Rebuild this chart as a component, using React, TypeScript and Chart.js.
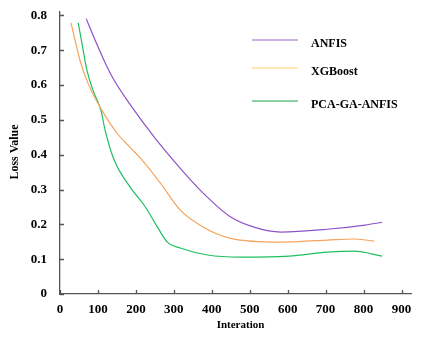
import React, { useEffect, useRef } from "react";
import { Chart, registerables } from "chart.js";

Chart.register(...registerables);

const seriesLabels = ["ANFIS", "XGBoost", "PCA-GA-ANFIS"];
const lineColors = ["#8e52c8", "#f7a35c", "#1fbf5f"];
const legendColors = ["#b899d8", "#ffd166", "#1aa34a"];
const xTitle = "Interation";
const yTitle = "Loss Value";

const anfisX = [69, 93, 114, 140, 185, 251, 317, 378, 450, 511, 582, 704, 804, 849];
const anfisY = [0.791, 0.728, 0.676, 0.619, 0.544, 0.447, 0.361, 0.289, 0.221, 0.192, 0.178, 0.186, 0.198, 0.206];

const xgbX = [29, 53, 74, 106, 151, 185, 217, 265, 317, 378, 450, 582, 704, 775, 828];
const xgbY = [0.779, 0.67, 0.605, 0.536, 0.461, 0.421, 0.384, 0.318, 0.241, 0.192, 0.16, 0.149, 0.155, 0.158, 0.152];

const pcaX = [48, 58, 71, 87, 108, 119, 143, 185, 225, 251, 283, 317, 389, 476, 603, 704, 775, 849];
const pcaY = [0.779, 0.719, 0.642, 0.585, 0.527, 0.47, 0.384, 0.307, 0.25, 0.203, 0.149, 0.132, 0.112, 0.106, 0.109, 0.12, 0.123, 0.109];

const xTicks = [0, 100, 200, 300, 400, 500, 600, 700, 800, 900];
const yTicks = [0, 0.1, 0.2, 0.3, 0.4, 0.5, 0.6, 0.7, 0.8];

const FONT = "'Liberation Serif', 'DejaVu Serif', serif";

function pts(xs: number[], ys: number[]) {
  return xs.map((x, i) => ({ x, y: ys[i] }));
}

const decorations = {
  id: "decorations",
  afterDraw(chart: any) {
    const ctx = chart.ctx;
    const xs = chart.scales.x;
    const ys = chart.scales.y;
    const a = chart.chartArea;
    ctx.save();
    ctx.strokeStyle = "#555";
    ctx.lineWidth = 1.3;
    ctx.beginPath();
    xs.ticks.forEach((t: any) => {
      const px = Math.round(xs.getPixelForValue(t.value)) + 0.5;
      ctx.moveTo(px, a.bottom);
      ctx.lineTo(px, a.bottom - 4);
    });
    ys.ticks.forEach((t: any) => {
      const py = Math.round(ys.getPixelForValue(t.value)) + 0.5;
      ctx.moveTo(a.left, py);
      ctx.lineTo(a.left + 4, py);
    });
    ctx.stroke();
    // axis titles
    ctx.fillStyle = "#000";
    ctx.font = "bold 11px " + FONT;
    ctx.textAlign = "center";
    ctx.textBaseline = "middle";
    ctx.fillText(xTitle, (a.left + a.right) / 2 + 5, 325);
    ctx.save();
    ctx.translate(15, 152);
    ctx.rotate(-Math.PI / 2);
    ctx.font = "bold 12px " + FONT;
    ctx.fillText(yTitle, 0, 0);
    ctx.restore();
    // legend
    const rows = [40, 68, 101];
    ctx.font = "bold 12px " + FONT;
    ctx.textAlign = "left";
    seriesLabels.forEach((lab, i) => {
      ctx.strokeStyle = legendColors[i];
      ctx.lineWidth = i === 0 ? 1.6 : 1.2;
      ctx.beginPath();
      ctx.moveTo(252, rows[i]);
      ctx.lineTo(298, rows[i]);
      ctx.stroke();
      ctx.fillText(lab, 311, rows[i] + 4);
    });
    ctx.restore();
  },
};

export default function App() {
  const ref = useRef<HTMLCanvasElement | null>(null);
  useEffect(() => {
    document.body.style.margin = "0";
    const c = ref.current;
    if (!c) return;
    const chart = new Chart(c, {
      type: "line",
      data: {
        datasets: [
          { label: seriesLabels[0], data: pts(anfisX, anfisY) },
          { label: seriesLabels[1], data: pts(xgbX, xgbY) },
          { label: seriesLabels[2], data: pts(pcaX, pcaY) },
        ].map((d, i) => ({
          ...d,
          borderColor: lineColors[i],
          backgroundColor: lineColors[i],
          borderWidth: 1.2,
          pointRadius: 0,
          fill: false,
          cubicInterpolationMode: "monotone" as const,
        })),
      },
      options: {
        animation: false,
        responsive: false,
        layout: { padding: { top: 12, right: 17, left: 0, bottom: 0 } },
        plugins: { legend: { display: false }, tooltip: { enabled: false } },
        scales: {
          x: {
            type: "linear",
            min: 0,
            max: 925,
            afterBuildTicks: (s: any) => {
              s.ticks = xTicks.map((v) => ({ value: v }));
            },
            afterFit: (s: any) => {
              s.height = 58;
              s.paddingLeft = 0;
              s.paddingRight = 0;
            },
            grid: { display: false, drawTicks: false },
            border: { display: true, color: "#555", width: 1.3 },
            ticks: {
              color: "#000",
              padding: 8,
              maxRotation: 0,
              font: { family: FONT, size: 13, weight: "bold" },
              callback: (v: any) => String(v),
            },
          },
          y: {
            type: "linear",
            min: 0,
            max: 0.81,
            afterBuildTicks: (s: any) => {
              s.ticks = yTicks.map((v) => ({ value: v }));
            },
            afterFit: (s: any) => {
              s.width = 60;
              s.paddingTop = 0;
              s.paddingBottom = 0;
            },
            grid: { display: false, drawTicks: false },
            border: { display: true, color: "#555", width: 1.3 },
            ticks: {
              color: "#000",
              padding: 13,
              font: { family: FONT, size: 13, weight: "bold" },
              callback: (v: any) => (v === 0 ? "0" : Number(v).toFixed(1)),
            },
          },
        },
      },
      plugins: [decorations],
    });
    return () => chart.destroy();
  }, []);
  return (
    <div style={{ width: 428, height: 352, background: "#fff" }}>
      <canvas ref={ref} width={428} height={352} />
    </div>
  );
}
